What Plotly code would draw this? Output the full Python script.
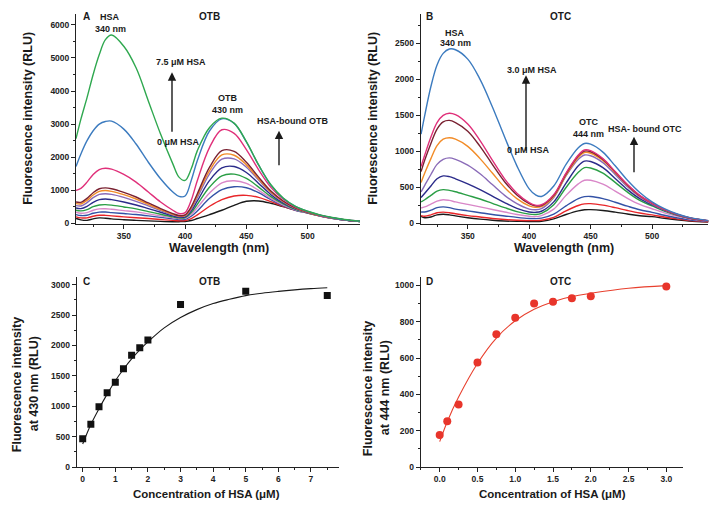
import plotly.graph_objects as go

W, H = 718, 514
FONT = "Liberation Sans, Arial, sans-serif"

# ---- panel A: OTB spectra (0 -> 7.5 uM HSA) ----
wl_a = [311, 315, 320, 325, 330, 335, 340, 350, 360, 370, 380, 390, 395, 400, 405,
        410, 420, 430, 440, 450, 460, 470, 480, 490, 500, 510, 520, 530, 543]
a_black = [150, 110, 95, 140, 170, 160, 140, 115, 95, 80, 65, 55, 55, 60, 90, 150, 270, 400, 550, 670, 680, 610, 510, 410, 325, 230, 158, 104, 58]
a_red = [200, 170, 170, 220, 250, 245, 230, 200, 175, 150, 120, 95, 85, 90, 150, 260, 520, 720, 830, 850, 790, 660, 520, 400, 315, 226, 156, 103, 58]
a_blue = [270, 240, 250, 310, 345, 345, 330, 300, 270, 230, 185, 140, 120, 125, 220, 380, 760, 1020, 1110, 1080, 930, 720, 540, 400, 315, 228, 157, 104, 59]
a_orchid = [340, 310, 330, 400, 440, 445, 430, 390, 350, 290, 230, 170, 145, 155, 280, 480, 920, 1230, 1290, 1210, 1000, 760, 560, 410, 320, 230, 159, 105, 60]
a_green = [400, 380, 420, 510, 560, 570, 555, 500, 440, 360, 280, 200, 170, 180, 330, 580, 1100, 1440, 1490, 1360, 1100, 810, 590, 425, 325, 233, 161, 106, 61]
a_navy = [470, 450, 520, 640, 720, 740, 720, 650, 560, 450, 340, 230, 190, 200, 380, 680, 1300, 1680, 1720, 1540, 1210, 870, 620, 440, 330, 236, 163, 107, 62]
a_purple = [540, 530, 630, 780, 880, 900, 880, 790, 670, 530, 390, 260, 210, 230, 430, 780, 1500, 1940, 1950, 1700, 1310, 930, 650, 455, 335, 240, 165, 108, 63]
a_orange = [600, 590, 700, 860, 970, 995, 970, 870, 740, 580, 420, 280, 225, 245, 470, 850, 1600, 2070, 2060, 1770, 1350, 950, 665, 465, 340, 242, 166, 109, 64]
a_brown = [650, 640, 760, 930, 1050, 1075, 1050, 940, 800, 620, 450, 300, 240, 260, 500, 900, 1700, 2200, 2180, 1850, 1400, 980, 680, 470, 345, 245, 168, 110, 65]
a_crimson = [1000, 1060, 1250, 1480, 1630, 1670, 1640, 1480, 1250, 950, 650, 400, 300, 330, 700, 1300, 2300, 2830, 2720, 2230, 1620, 1090, 730, 495, 355, 250, 170, 112, 66]
a_steel = [1720, 2100, 2500, 2800, 3000, 3080, 3090, 2850, 2400, 1850, 1350, 950, 820, 830, 1300, 1900, 2800, 3160, 3020, 2460, 1760, 1160, 760, 515, 365, 255, 175, 115, 68]
a_green75 = [2560, 3150, 3800, 4500, 5100, 5550, 5690, 5350, 4700, 3700, 2700, 1800, 1400, 1300, 1650, 2200, 2900, 3180, 3030, 2470, 1770, 1170, 770, 520, 370, 260, 180, 120, 70]

# ---- panel B: OTC spectra (0 -> 3.0 uM HSA) ----
wl_b = [312, 315, 320, 325, 330, 335, 340, 350, 360, 370, 380, 390, 400, 405, 410,
        420, 430, 440, 445, 450, 460, 470, 480, 490, 500, 510, 520, 530, 546]
b_black = [100, 80, 90, 120, 128, 120, 105, 80, 60, 45, 35, 30, 28, 28, 32, 65, 125, 175, 190, 192, 180, 158, 132, 108, 95, 72, 52, 35, 20]
b_red = [110, 100, 120, 150, 158, 150, 135, 110, 90, 70, 55, 45, 40, 40, 45, 85, 175, 250, 272, 275, 255, 220, 180, 145, 120, 90, 64, 42, 24]
b_blue = [160, 160, 185, 220, 230, 220, 200, 175, 150, 125, 105, 85, 70, 68, 75, 130, 245, 345, 372, 375, 345, 295, 240, 190, 155, 114, 80, 52, 28]
b_orchid = [215, 230, 270, 310, 330, 320, 300, 265, 230, 195, 160, 125, 100, 95, 110, 200, 390, 550, 600, 600, 545, 450, 350, 265, 205, 148, 102, 66, 32]
b_green = [300, 330, 390, 450, 470, 460, 440, 390, 340, 280, 220, 165, 130, 125, 140, 260, 500, 710, 775, 770, 700, 570, 435, 320, 245, 172, 116, 74, 34]
b_navy = [360, 420, 520, 620, 660, 650, 620, 550, 470, 380, 290, 210, 160, 155, 170, 300, 560, 800, 865, 860, 775, 625, 470, 345, 260, 182, 121, 77, 35]
b_purple = [440, 530, 680, 820, 890, 910, 890, 810, 690, 540, 390, 275, 200, 190, 205, 360, 660, 890, 950, 940, 845, 680, 510, 370, 270, 186, 124, 78, 36]
b_orange = [570, 700, 900, 1080, 1170, 1190, 1170, 1070, 900, 700, 500, 345, 245, 225, 235, 375, 670, 920, 985, 975, 875, 705, 528, 382, 280, 193, 127, 80, 37]
b_brown = [720, 880, 1110, 1310, 1410, 1430, 1400, 1280, 1070, 820, 580, 395, 275, 245, 250, 390, 690, 940, 1005, 995, 890, 715, 535, 385, 282, 194, 128, 80, 37]
b_crimson = [790, 950, 1200, 1400, 1500, 1530, 1510, 1380, 1150, 880, 620, 420, 290, 255, 260, 400, 700, 950, 1020, 1010, 900, 720, 540, 390, 284, 195, 130, 82, 38]
b_steel = [1240, 1500, 1900, 2200, 2360, 2420, 2410, 2280, 2000, 1620, 1200, 800, 480, 400, 375, 520, 820, 1050, 1110, 1100, 990, 800, 600, 430, 300, 205, 135, 85, 40]

# ---- panel C: OTB at 430 nm vs [HSA] ----
c_conc = [0, 0.25, 0.5, 0.75, 1.0, 1.25, 1.5, 1.75, 2.0, 3.0, 5.0, 7.5]
c_int = [467, 705, 993, 1221, 1394, 1617, 1839, 1964, 2089, 2675, 2892, 2821]
c_fit_x = [0, 0.25, 0.5, 0.75, 1, 1.25, 1.5, 1.75, 2, 2.5, 3, 3.5, 4, 4.5, 5, 5.5, 6, 6.5, 7, 7.5]
c_fit_y = [380, 700, 960, 1200, 1420, 1610, 1780, 1930, 2060, 2290, 2460, 2590, 2690, 2760, 2820, 2860, 2890, 2915, 2935, 2950]

# ---- panel D: OTC at 444 nm vs [HSA] ----
d_conc = [0, 0.1, 0.25, 0.5, 0.75, 1.0, 1.25, 1.5, 1.75, 2.0, 3.0]
d_int = [176, 252, 345, 575, 731, 822, 900, 909, 929, 940, 994]
d_fit_x = [0, 0.1, 0.25, 0.5, 0.75, 1.0, 1.25, 1.5, 1.75, 2.0, 2.5, 3.0]
d_fit_y = [140, 250, 385, 570, 710, 805, 868, 910, 938, 956, 984, 998]

colors = ["#1a1a1a", "#e8262a", "#3352a6", "#d987c8", "#2a9e45", "#2b2b8a",
          "#8a6bb8", "#f28c28", "#7a2232", "#e0307a", "#3c7bbf", "#2fa84f"]
spectra_a = [a_black, a_red, a_blue, a_orchid, a_green, a_navy, a_purple,
             a_orange, a_brown, a_crimson, a_steel, a_green75]
spectra_b = [b_black, b_red, b_blue, b_orchid, b_green, b_navy, b_purple,
             b_orange, b_brown, b_crimson, b_steel]
colors_b = colors[:11]


def px(x):
    return x / W


def py(y):
    return 1 - y / H


fig = go.Figure()

for ys, c in zip(spectra_a, colors):
    fig.add_trace(go.Scatter(x=wl_a, y=ys, mode="lines", line=dict(color=c, width=1.4, shape="spline"),
                             xaxis="x", yaxis="y", showlegend=False))
for ys, c in zip(spectra_b, colors_b):
    fig.add_trace(go.Scatter(x=wl_b, y=ys, mode="lines", line=dict(color=c, width=1.4, shape="spline"),
                             xaxis="x2", yaxis="y2", showlegend=False))

fig.add_trace(go.Scatter(x=c_fit_x, y=c_fit_y, mode="lines", line=dict(color="#1a1a1a", width=1.1, shape="spline"),
                         xaxis="x3", yaxis="y3", showlegend=False))
fig.add_trace(go.Scatter(x=c_conc, y=c_int, mode="markers", marker=dict(symbol="square", size=7, color="#111111"),
                         xaxis="x3", yaxis="y3", showlegend=False))
fig.add_trace(go.Scatter(x=d_fit_x, y=d_fit_y, mode="lines", line=dict(color="#e8402e", width=1.1, shape="spline"),
                         xaxis="x4", yaxis="y4", showlegend=False))
fig.add_trace(go.Scatter(x=d_conc, y=d_int, mode="markers", marker=dict(symbol="circle", size=8, color="#e8352b"),
                         xaxis="x4", yaxis="y4", showlegend=False))


def axis(x0, x1, rng, tickvals, minor_dtick, anchor):
    return dict(
        domain=[x0, x1], range=rng, anchor=anchor,
        showline=True, linecolor="#222222", linewidth=1,
        ticks="outside", ticklen=4, tickwidth=1, tickcolor="#222222",
        tickvals=tickvals, showgrid=False, zeroline=False,
        tickfont=dict(family=FONT, size=8.5, color="#222222", weight="bold"),
        minor=dict(ticks="outside", ticklen=2, tickcolor="#222222", dtick=minor_dtick, showgrid=False),
    )


# pixel frames of the four panels
xa = axis(px(76), px(360), [311, 542.7], [350, 400, 450, 500], 25, "y")
ya = axis(py(226.5), py(14), [-24, 6329], [0, 1000, 2000, 3000, 4000, 5000, 6000], 500, "x")
xb = axis(px(420.7), px(708.3), [311.7, 545.8], [350, 400, 450, 500], 25, "y2")
yb = axis(py(226.5), py(14), [-11, 2908], [0, 500, 1000, 1500, 2000, 2500], 250, "x2")
xc = axis(px(76.7), px(339.3), [-0.184, 7.869], [0, 1, 2, 3, 4, 5, 6, 7], 0.5, "y3")
yc = axis(py(471.7), py(280), [0, 3122], [0, 500, 1000, 1500, 2000, 2500, 3000], 250, "x3")
xd = axis(px(420.7), px(683), [-0.2516, 3.221], [0, 0.5, 1.0, 1.5, 2.0, 2.5, 3.0], 0.25, "y4")
yd = axis(py(471.7), py(279.3), [0, 1048], [0, 200, 400, 600, 800, 1000], 100, "x4")
xd["ticktext"] = ["0.0", "0.5", "1.0", "1.5", "2.0", "2.5", "3.0"]
for ax_ in (xa, xb, xc, xd):
    ax_["minor"]["tick0"] = 0

annotations = []


def label(x, y, text, size=9, angle=0):
    annotations.append(dict(x=px(x), y=py(y), xref="paper", yref="paper", text=text, showarrow=False,
                            textangle=angle, xanchor="center", yanchor="middle",
                            font=dict(family=FONT, size=size, color="#1a1a1a", weight="bold")))


def arrow(x, y_tail, y_head):
    annotations.append(dict(x=px(x), y=py(y_head), xref="paper", yref="paper", text="",
                            showarrow=True, ax=0, ay=y_tail - y_head, arrowhead=2, arrowsize=1.2,
                            arrowwidth=1.4, arrowcolor="#1a1a1a"))


# panel A
label(86, 17, "A", 10)
label(110, 17, "HSA")
label(110, 29, "340 nm")
label(209, 17, "OTB", 10)
label(181, 63, "7.5 μM HSA")
arrow(172, 134, 73)
label(178, 143, "0 μM HSA")
label(228, 99, "OTB")
label(227, 111, "430 nm")
label(292, 122, "HSA-bound OTB")
arrow(279, 168, 132)
label(28, 120, "Fluorescence intensity (RLU)", 12.5, -90)
label(219, 250, "Wavelength (nm)", 12.5)

# panel B
label(430, 17, "B", 10)
label(455, 33, "HSA")
label(455, 43, "340 nm")
label(560, 17, "OTC", 10)
label(532, 71, "3.0 μM HSA")
arrow(526, 153, 76)
label(528, 151, "0 μM HSA")
label(588, 123, "OTC")
label(588, 135, "444 nm")
label(645, 130, "HSA- bound OTC")
arrow(634, 175, 138)
label(373, 120, "Fluorescence intensity (RLU)", 12.5, -90)
label(564, 250, "Wavelength (nm)", 12.5)

# panel C
label(86, 284, "C", 10)
label(209, 284, "OTB", 10)
label(17, 388, "Fluorescence intensity", 12.5, -90)
label(34, 388, "at 430 nm (RLU)", 12.5, -90)
label(207, 499, "Concentration of HSA (μM)", 11.5)

# panel D
label(430, 284, "D", 10)
label(560, 284, "OTC", 10)
label(368, 392, "Fluorescence intensity", 12.5, -90)
label(385, 392, "at 444 nm (RLU)", 12.5, -90)
label(552, 499, "Concentration of HSA (μM)", 11.5)

fig.update_layout(
    width=W, height=H,
    margin=dict(l=0, r=0, t=0, b=0),
    paper_bgcolor="white", plot_bgcolor="white",
    font=dict(family=FONT),
    xaxis=xa, yaxis=ya, xaxis2=xb, yaxis2=yb,
    xaxis3=xc, yaxis3=yc, xaxis4=xd, yaxis4=yd,
    annotations=annotations,
    showlegend=False,
)

# drop the default body margin (it shifts the figure by 8 px) and any scrollbars
fig.write_html(
    "out.html",
    config={"displayModeBar": False},
    post_script="document.body.style.margin='0px';document.body.style.overflow='hidden';",
)
